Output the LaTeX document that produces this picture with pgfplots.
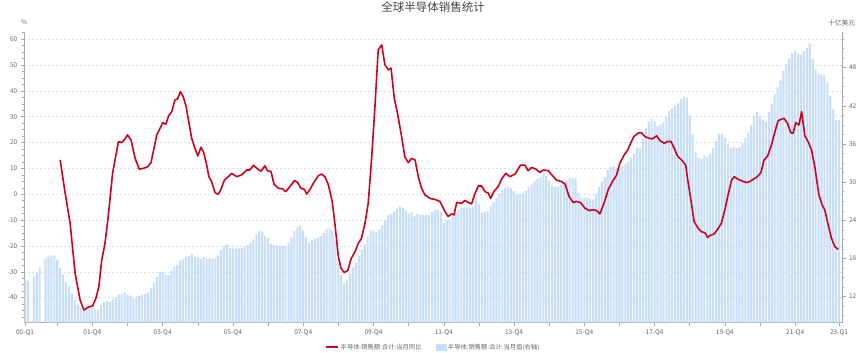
\documentclass[border=0pt]{standalone}
\usepackage{pgfplots}
\pgfplotsset{compat=1.18}
\usepackage{fontspec}
\setmainfont{Noto Sans CJK SC}
\definecolor{barblue}{RGB}{199,222,248}
\definecolor{linered}{RGB}{208,2,27}
\definecolor{axisgray}{RGB}{165,165,165}
\definecolor{txtgray}{RGB}{102,102,102}
\definecolor{gridgray}{RGB}{222,222,222}
\definecolor{titlegray}{RGB}{68,68,68}

\pgfplotstableread{
x y
0 14.7
1 14.5
3 15.1
4 15.8
5 16.6
7 17.9
8 18.3
9 18.5
10 18.5
11 17.8
12 16.5
13 15.4
14 14.3
15 13.6
16 12.5
17 11.5
18 10.7
19 10.4
20 9.9
21 10.0
22 10.2
23 10.2
24 9.9
25 9.9
26 10.7
27 11.1
28 11.3
29 11.2
30 11.6
31 11.9
32 12.3
33 12.4
34 12.7
35 12.3
36 12.1
37 11.7
38 12.0
39 12.1
40 12.3
41 12.4
42 12.6
43 13.4
44 14.2
45 15.1
46 15.9
47 15.8
48 15.4
49 15.4
50 16.1
51 16.7
52 17.0
53 17.7
54 17.9
55 18.2
56 18.4
57 18.7
58 18.3
59 18.2
60 17.9
61 18.2
62 18.0
63 18.0
64 17.9
65 18.0
66 18.5
67 19.4
68 19.9
69 20.2
70 19.6
71 19.6
72 19.6
73 19.6
74 19.6
75 19.8
76 20.1
77 20.4
78 21.0
79 21.7
80 22.3
81 22.2
82 21.6
83 21.2
84 20.3
85 20.1
86 20.0
87 20.0
88 20.0
89 19.9
90 20.4
91 21.3
92 22.3
93 22.9
94 23.1
95 22.4
96 21.4
97 20.4
98 20.9
99 21.1
100 21.2
101 21.5
102 22.0
103 22.6
104 22.8
105 22.4
106 20.9
107 17.5
108 15.4
109 14.1
110 14.6
111 15.6
112 16.6
113 17.4
114 18.4
115 19.3
116 20.3
117 21.4
118 22.4
119 22.4
120 22.2
121 22.6
122 23.2
123 24.0
124 24.8
125 25.0
126 25.4
127 25.8
128 26.2
129 26.0
130 25.5
131 25.1
132 25.3
133 24.6
134 25.0
135 24.8
136 24.8
137 24.8
138 24.8
139 25.3
140 25.6
141 25.6
142 25.3
143 23.6
144 24.0
145 24.1
146 24.7
147 25.2
148 25.6
149 26.0
150 26.0
151 26.0
152 26.0
153 26.1
154 27.6
155 26.6
156 25.2
157 25.3
158 25.5
159 26.2
160 26.9
161 27.5
162 28.2
163 28.8
164 29.1
165 29.3
166 29.1
167 28.6
168 28.0
169 28.1
170 28.2
171 28.6
172 29.2
173 29.6
174 30.1
175 30.5
176 30.8
177 31.3
178 31.0
179 30.2
180 29.5
181 29.3
182 29.3
183 29.5
184 29.8
185 30.2
186 30.6
187 30.6
188 30.6
189 28.3
190 27.6
191 27.5
192 27.5
193 27.4
194 27.3
195 28.2
196 29.2
197 30.1
198 30.8
199 31.9
200 32.4
201 32.5
202 32.3
203 32.0
204 32.5
205 32.9
206 33.2
207 33.8
208 34.5
209 35.4
210 35.3
211 36.8
212 38.5
213 39.5
214 40.0
215 39.6
216 38.8
217 39.0
218 39.4
219 40.3
220 41.2
221 41.6
222 42.0
223 42.4
224 43.1
225 43.5
226 43.3
227 40.5
228 37.5
229 34.8
230 33.9
231 33.6
232 34.2
233 34.0
234 34.5
235 35.4
236 36.4
237 37.6
238 37.6
239 37.0
240 36.0
241 35.4
242 35.6
243 35.4
244 35.6
245 36.1
246 37.0
247 37.8
248 39.0
249 40.4
250 41.0
251 40.4
252 39.8
253 39.5
254 41.0
255 42.3
256 43.8
257 44.9
258 46.0
259 47.5
260 48.6
261 49.4
262 50.3
263 50.7
264 50.2
265 50.0
266 50.6
267 51.1
268 51.8
269 49.3
270 47.6
271 47.0
272 46.9
273 46.8
274 45.6
275 43.6
276 41.5
277 39.7
278 39.8
}\bars

\pgfplotstableread{
x y
12 13.3
13.7 0.4
15.4 -11.2
17.1 -30.6
18.8 -40.9
20.1 -44.8
21.6 -43.7
23.1 -43.2
24.2 -40.2
25.2 -35.8
26.2 -25.4
27.3 -19
28.4 -8.7
29.9 8.1
31.9 20.4
33 20
34.1 21.3
35 23
36.2 21
37.6 13.9
39 9.7
40.6 10.1
42 10.7
43 12.2
43.8 16.5
45 23
46.1 25.5
47 27.7
48.1 27.1
49 30.3
50.1 32
51.2 36.5
52.1 36.9
53 39.7
54 37.8
55 33.9
55.8 28.8
56.9 21.7
58 17.8
59 14.8
60.1 18.2
60.9 16.5
61.8 12.6
62.8 6.8
63.7 4.9
64.9 0.6
66 0
66.9 1.9
68.1 5.5
69.4 6.8
70.6 8.1
72.3 6.8
74 7.5
75.7 9.4
76.8 9.4
78 11.2
79.1 10.1
80.6 8.9
81.9 11.0
82.8 9.1
84 8.8
85 4.0
86.5 2.3
87.9 2.1
89 1.0
90.5 3.0
92 5.3
93.1 4.5
94.2 2.3
95.4 1.9
96.2 0.1
97.3 1.9
98.8 4.9
100.1 7.1
101.3 7.8
102.4 6.8
103.6 3.6
104.9 -2.8
105.8 -11.2
107 -24.1
107.9 -28.6
109 -30.3
110.2 -29.5
111.3 -25.1
112.7 -22.2
113.8 -19.0
114.9 -17.0
116.1 -11.2
117.2 -3.5
118.4 14.5
119.5 34
120.6 55.8
121.8 57.8
122.9 50.1
124.1 48.1
125 48.8
126.1 37.1
127.2 31.3
128.6 22.3
129.7 14.5
130.9 12.2
132 13.9
133.2 13.3
134.3 6.8
135.4 2.3
136.6 -0.3
138.3 -1.6
140 -2.0
141.7 -2.8
143.4 -6.7
144.5 -8.6
145.7 -7.6
146.5 -8.0
147.4 -3.2
149.1 -3.5
150.2 -2.4
151.4 -3.2
152.5 -3.7
153.6 0.1
154.8 3.2
155.9 3.2
157.1 1.0
158.2 0.4
159 -1.6
160.1 1.0
161.6 3.0
162.7 5.8
164.2 8.1
165.6 6.8
167.3 7.8
168.4 9.7
169.2 11.3
170.7 11.3
171.8 9.1
173 10.4
174.5 9.7
175.8 8.4
177 9.4
178.7 9.1
180.2 7.1
181.5 5.5
183.2 4.9
184.4 4.0
185.8 -0.9
187.2 -3.2
188.3 -2.8
189.7 -3.2
191.2 -5.4
192.7 -6.3
194 -6.0
195.2 -6.3
196.3 -7.6
197.7 -3.5
199.2 1.9
200.6 4.9
202 7.4
203.1 11.9
204.6 15.2
205.8 17.1
206.8 19.7
207.9 22.3
209.4 23.7
210.5 23.8
211.7 22.3
213 21.7
214.2 21.4
215.7 22.6
216.8 20.8
218.3 19.7
219.4 20.4
220.6 20.4
221.7 17.8
222.8 14.8
224.2 13.3
225.6 11.3
226.5 4.2
227.4 -2.2
228.5 -10.6
229.9 -13.2
231 -14.5
232.2 -14.9
233.1 -16.7
234.2 -15.8
235.3 -15.4
236.5 -13.6
237.8 -11.2
239 -6.0
240.1 -0.2
241.3 5.5
242.2 6.8
243.5 5.8
244.9 5.1
246.4 4.5
247.5 4.9
248.7 5.8
250.1 6.8
251.3 8.4
252.4 13.3
253.6 14.8
254.9 19.1
256.1 24.2
257.2 28.5
258.3 29.0
259.2 29.4
260.4 27.4
261.5 23.8
262.3 23.6
263.2 27.7
264.3 26.8
265.2 32.0
266.3 22.6
267.4 20.4
268.6 17.1
269.7 10.7
271.1 -0.2
272.2 -4.1
273.1 -6.0
274.3 -11.9
275.4 -17.1
276.6 -20.3
277.7 -21.3
}\yoy

\begin{document}
\begin{tikzpicture}
\useasboundingbox (-24.3pt,-30.3pt) rectangle (840.7pt,322.7pt);
\pgfplotsset{
  base/.style={
    at={(0pt,0pt)}, anchor=south west,
    scale only axis, width=817.7pt, height=291pt,
    xmin=-0.25, xmax=279.0,
    /pgf/number format/assume math mode=true,
    tick label style={font=\fontsize{6.5}{7}\selectfont, text=txtgray},
    axis line style={draw=axisgray, line width=0.6pt},
    tick style={draw=axisgray, line width=0.5pt},
    tick align=outside,
    major tick length=3.5pt, minor tick length=2pt,
  }
}
% axis 1: left scale, grid and x axis
\begin{axis}[base, ymin=-49.7, ymax=62.9,
  axis x line*=bottom, axis y line*=left,
  ytick={-40,-30,...,60},
  minor ytick={-47.5,-45,...,62.5},
  ymajorgrids, major grid style={draw=gridgray, dash pattern=on 2pt off 2pt, line width=0.5pt},
  xtick={0,11,23,35,47,59,71,83,95,107,119,131,143,155,167,179,191,203,215,227,239,251,263,278},
  xticklabels={00-Q1,,01-Q4,,03-Q4,,05-Q4,,07-Q4,,09-Q4,,11-Q4,,13-Q4,,15-Q4,,17-Q4,,19-Q4,,21-Q4,23-Q1},
]
\addplot[draw=none, forget plot] coordinates {(0,0)};
\end{axis}
% axis 2: right scale, bars
\begin{axis}[base, ymin=7.9, ymax=53.65,
  axis y line*=right, axis x line=none,
  ytick={12,18,...,48},
  minor ytick={9,10.5,...,52.5},
]
\addplot[ybar, bar width=0.72, bar shift=0pt, fill=barblue, draw=none] table[x=x,y=y] {\bars};
\end{axis}
% axis 3: left scale, line
\begin{axis}[base, ymin=-49.7, ymax=62.9, hide axis,
  legend style={at={(0.5,-0.0842)}, anchor=center, draw=none, fill=none,
    font=\fontsize{6.3}{7}\selectfont, text=txtgray, legend columns=2,
    /tikz/every even column/.append style={column sep=12pt},
    inner sep=0pt},
  legend cell align=left,
]
\addplot[linered, line width=1.6pt, line join=round, forget plot] table[x=x,y=y] {\yoy};
\addlegendimage{legend image code/.code={\draw[linered, line width=1.8pt] (0pt,0pt) -- (12pt,0pt);}}
\addlegendentry{半导体:销售额:合计:当月同比}
\addlegendimage{legend image code/.code={\fill[barblue] (0pt,-3pt) rectangle (10pt,3pt);}}
\addlegendentry{半导体:销售额:合计:当月值(右轴)}
\end{axis}
\node[font=\fontsize{11.5}{12}\selectfont, text=titlegray] at (408.7pt,315.2pt) {全球半导体销售统计};
\node[font=\fontsize{6.5}{7}\selectfont, text=txtgray] at (-0.3pt,301pt) {\%};
\node[font=\fontsize{6.7}{7}\selectfont, text=txtgray] at (817.3pt,300pt) {十亿美元};
\end{tikzpicture}
\end{document}
